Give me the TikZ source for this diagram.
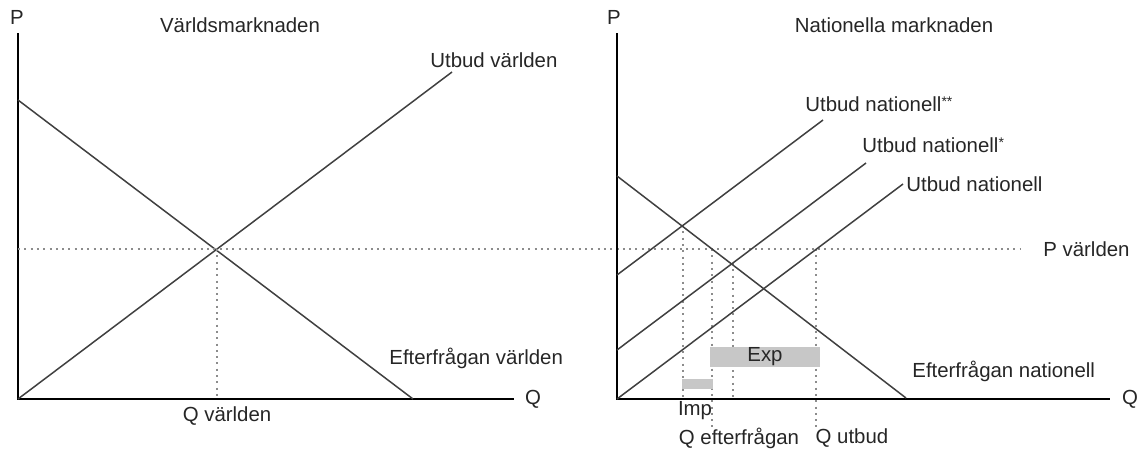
\documentclass[tikz,border=0pt]{standalone}
\usepackage{fontspec}
\setmainfont{Liberation Sans}
\usetikzlibrary{positioning}

\newcommand{\smallstar}[1]{\raisebox{0.45ex}{\fontsize{7}{8}\selectfont #1}}

\begin{document}
\begin{tikzpicture}[
    x=0.5pt, y=-0.5pt,
    every node/.style={font=\fontsize{10.2}{12}\selectfont, inner sep=0pt, text=black!85},
    axis/.style={line width=0.9pt},
    curve/.style={line width=0.75pt, black!75},
    guide/.style={line width=1.2pt, black!45, dash pattern=on 1pt off 2.15pt},
    bar/.style={fill=black!22}
]
\useasboundingbox (0,0) rectangle (1137,450);

% Left panel: world market
\draw[axis] (18,33) -- (18,399) -- (514,399);
\node (pl) at (17,17) {P};
\node (ql) at (533,399) {Q};
\node (tl) at (240,25) {Världsmarknaden};

\coordinate (dw0) at (18,100);  \coordinate (dw1) at (413,399);
\coordinate (sw0) at (18,399);  \coordinate (sw1) at (452,72);
\draw[curve] (dw0) -- (dw1);
\draw[curve] (sw0) -- (sw1);
\node[anchor=west] (swlab) at (430,60) {Utbud världen};
\node[anchor=west] (dwlab) at (389,358) {Efterfrågan världen};

% World price and quantity
\coordinate (eqw) at (217,249);
\coordinate (pw1) at (1020,249);
\draw[guide] (18,249) -- (pw1);
\draw[guide] (eqw) -- (217,399);
\node (qw) at (227,416) {Q världen};
\node[anchor=west] (pwlab) at (1043,249) {P världen};

% Right panel: national market
\draw[axis] (617,33) -- (617,399) -- (1110,399);
\node (pr) at (614,17) {P};
\node (qr) at (1130,399) {Q};
\node (tr) at (894,25) {Nationella marknaden};

\coordinate (dn0) at (617,176);  \coordinate (dn1) at (906,398);
\coordinate (sn0) at (617,399);  \coordinate (sn1) at (903,184);
\coordinate (sa0) at (617,350);  \coordinate (sa1) at (866,163);
\coordinate (sb0) at (617,275);  \coordinate (sb1) at (823,120);

% Guides to the quantity axis
\draw[guide] (683,225) -- (683,399);
\draw[guide] (712,249) -- (712,427);
\draw[guide] (733,263) -- (733,399);
\draw[guide] (816,249) -- (816,427);

\draw[curve] (dn0) -- (dn1);
\draw[curve] (sn0) -- (sn1);
\draw[curve] (sa0) -- (sa1);
\draw[curve] (sb0) -- (sb1);

\node[anchor=west] (snlab) at (906,184) {Utbud nationell};
\node[anchor=west] (salab) at (862,145) {Utbud nationell\smallstar{*}};
\node[anchor=west] (sblab) at (805,104) {Utbud nationell\smallstar{**}};
\node[anchor=west] (dnlab) at (912,371) {Efterfrågan nationell};

% Export and import bars
\fill[bar] (710,347) rectangle (820,367);
\node (exp) at (765,357) {Exp};
\fill[bar] (682,379) rectangle (713,389);
\node (imp) at (695,411) {Imp};

\node (qd) at (739,438) {Q efterfrågan};
\node (qs) at (852,438) {Q utbud};
\end{tikzpicture}
\end{document}
